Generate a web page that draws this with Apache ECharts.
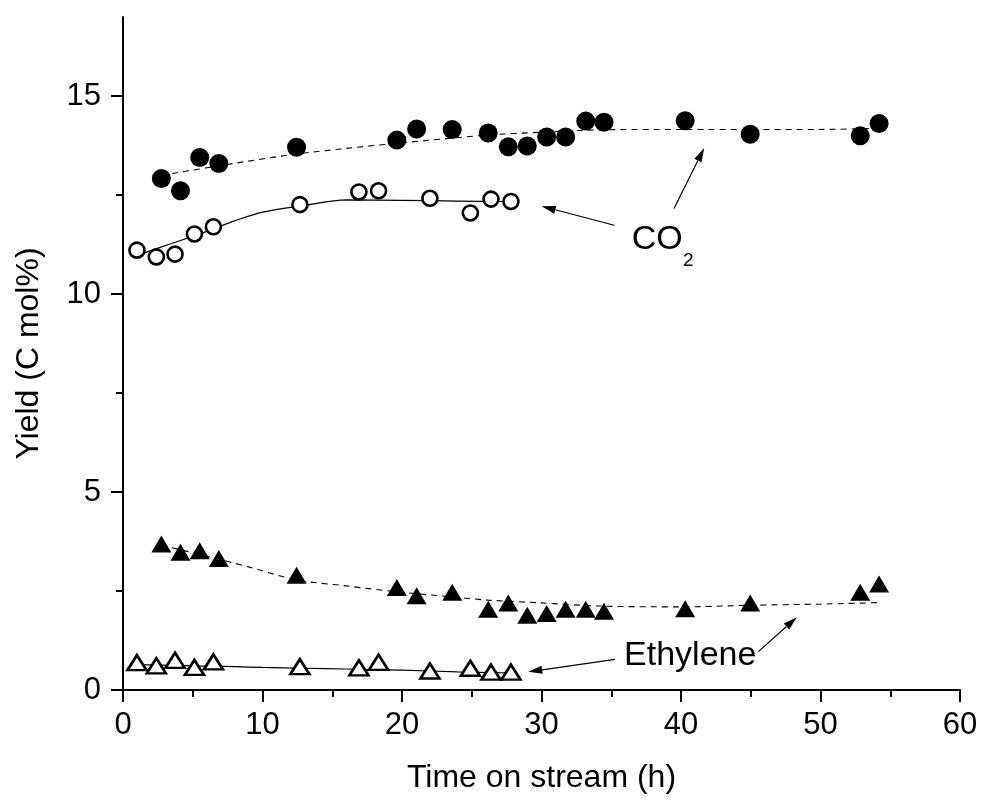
<!DOCTYPE html>
<html>
<head>
<meta charset="utf-8">
<title>Yield vs time on stream</title>
<script src="https://cdn.jsdelivr.net/npm/echarts@6/dist/echarts.min.js"></script>
<style>
  html, body { margin: 0; padding: 0; background: #fff; }
  #chart { width: 984px; height: 804px; }
</style>
</head>
<body>
<div id="chart"></div>
<script>
// Run A (filled symbols): time on stream (h)
const timeA = [2.75, 4.12, 5.50, 6.87, 12.44, 19.63, 21.05, 23.60, 26.18, 27.62, 28.98, 30.37, 31.73, 33.17, 34.48, 40.30, 44.96, 52.85, 54.20];
const co2A = [12.92, 12.61, 13.45, 13.30, 13.71, 13.89, 14.17, 14.16, 14.07, 13.72, 13.74, 13.97, 13.97, 14.37, 14.34, 14.38, 14.04, 14.00, 14.31];
const ethyleneA = [3.69, 3.48, 3.52, 3.32, 2.90, 2.59, 2.38, 2.47, 2.04, 2.20, 1.89, 1.93, 2.04, 2.04, 1.99, 2.05, 2.20, 2.47, 2.68];

// Run B (open symbols)
const timeB = [1.00, 2.39, 3.73, 5.12, 6.48, 12.68, 16.91, 18.32, 22.00, 24.90, 26.38, 27.81];
const co2B = [11.11, 10.94, 11.01, 11.52, 11.70, 12.26, 12.58, 12.61, 12.42, 12.05, 12.40, 12.34];
const ethyleneB = [0.69, 0.61, 0.75, 0.57, 0.71, 0.59, 0.56, 0.70, 0.48, 0.55, 0.45, 0.45];

// Guide-to-the-eye trend curves
const trendTimeA = [2.75, 6, 9, 12.44, 16, 19.63, 23, 26.18, 30, 34.2, 40, 45, 50, 54.3];
const co2TrendA = [13.00, 13.19, 13.36, 13.54, 13.68, 13.81, 13.92, 14.02, 14.09, 14.15, 14.16, 14.16, 14.16, 14.19];
const ethyleneTrendA = [3.66, 3.38, 3.11, 2.78, 2.63, 2.48, 2.37, 2.27, 2.20, 2.12, 2.10, 2.14, 2.17, 2.21];
const trendTimeB = [1.0, 2.4, 5.1, 6.5, 8, 10, 13, 16, 20, 24, 27.8];
const co2TrendB = [10.97, 11.15, 11.47, 11.65, 11.85, 12.07, 12.24, 12.38, 12.37, 12.35, 12.34];
const ethyleneTrendB = [0.64, 0.63, 0.61, 0.60, 0.59, 0.57, 0.55, 0.53, 0.50, 0.46, 0.43];

// Axis ticks
const xTicks = [0, 10, 20, 30, 40, 50, 60];
const yMajorTicks = [0, 5, 10, 15];
const yMinorTicks = [2.5, 7.5, 12.5];

const FONT = '"Liberation Sans", Arial, sans-serif';

const zip = (xs, ys) => xs.map((x, i) => [x, ys[i]]);

const chart = echarts.init(document.getElementById('chart'), null, { renderer: 'canvas' });

function scatter(name, xs, ys, symbol, size, filled) {
  return {
    name, type: 'scatter', xAxisIndex: 0, yAxisIndex: 0,
    data: zip(xs, ys), symbol, symbolSize: size, z: 5,
    itemStyle: filled
      ? { color: '#000', borderWidth: 0, opacity: 1 }
      : { color: '#fff', borderColor: '#000', borderWidth: 2.6, opacity: 1 },
    emphasis: { disabled: true }, silent: true
  };
}
function trend(name, xs, ys, dashed) {
  return {
    name, type: 'line', xAxisIndex: 0, yAxisIndex: 0,
    data: zip(xs, ys), showSymbol: false, smooth: 0.3, z: 3,
    lineStyle: { color: '#000', width: dashed ? 1.1 : 1.2, type: dashed ? [6, 5] : 'solid' },
    emphasis: { disabled: true }, silent: true
  };
}

const axisLine = { show: true, onZero: false, lineStyle: { color: '#000', width: 2 } };

chart.setOption({
  animation: false,
  backgroundColor: '#fff',
  grid: { left: 123, right: 24, top: 17, bottom: 114, containLabel: false },
  xAxis: {
    type: 'value', min: 0, max: 60, interval: 10,
    axisLine,
    axisTick: { show: true, inside: false, length: 12, lineStyle: { color: '#000', width: 2 } },
    minorTick: { show: true, splitNumber: 2, length: 7, lineStyle: { color: '#000', width: 2 } },
    splitLine: { show: false },
    axisLabel: { color: '#000', fontFamily: FONT, fontSize: 31, margin: 20, customValues: xTicks },
    name: 'Time on stream (h)', nameLocation: 'middle', nameGap: 72,
    nameTextStyle: { color: '#000', fontFamily: FONT, fontSize: 32 }
  },
  yAxis: [{
    type: 'value', min: 0, max: 17,
    axisLine,
    axisTick: { show: true, inside: false, length: 12, customValues: yMajorTicks, lineStyle: { color: '#000', width: 2 } },
    splitLine: { show: false },
    axisLabel: { color: '#000', fontFamily: FONT, fontSize: 31, margin: 22, customValues: yMajorTicks },
    name: 'Yield (C mol%)', nameLocation: 'middle', nameGap: 78, nameRotate: 90,
    nameTextStyle: { color: '#000', fontFamily: FONT, fontSize: 32 }
  }, {
    type: 'value', min: 0, max: 17, position: 'left',
    axisLine: { show: false },
    axisTick: { show: true, inside: false, length: 7, customValues: yMinorTicks, lineStyle: { color: '#000', width: 2 } },
    axisLabel: { show: false }, splitLine: { show: false }
  }],
  series: [
    trend('CO2 trend A', trendTimeA, co2TrendA, true),
    trend('Ethylene trend A', trendTimeA, ethyleneTrendA, true),
    trend('CO2 trend B', trendTimeB, co2TrendB, false),
    trend('Ethylene trend B', trendTimeB, ethyleneTrendB, false),
    scatter('CO2 A', timeA, co2A, 'circle', 19, true),
    scatter('Ethylene A', timeA, ethyleneA, 'triangle', [20, 17], true),
    scatter('CO2 B', timeB, co2B, 'circle', 15, false),
    scatter('Ethylene B', timeB, ethyleneB, 'triangle', [19, 15], false)
  ]
});

// Annotations, anchored in data units
const labels = [
  { text: 'CO', at: [36.47, 11.38], size: 34 },
  { text: '2', at: [40.15, 10.83], size: 19 },
  { text: 'Ethylene', at: [35.92, 0.88], size: 34 }
];
const arrows = [
  { from: [35.22, 11.74], to: [30.01, 12.22] },
  { from: [39.50, 12.16], to: [41.66, 13.69] },
  { from: [35.27, 0.775], to: [29.05, 0.46] },
  { from: [45.55, 0.97], to: [48.31, 1.84] }
];

const px = (p) => chart.convertToPixel({ xAxisIndex: 0, yAxisIndex: 0 }, p);
const graphics = [];
labels.forEach((l) => {
  const [x, y] = px(l.at);
  graphics.push({
    type: 'text', x, y, z: 10, silent: true,
    style: { text: l.text, fill: '#000', font: `${l.size}px ${FONT}`, align: 'left', verticalAlign: 'middle' }
  });
});
arrows.forEach((a) => {
  const [x1, y1] = px(a.from);
  const [x2, y2] = px(a.to);
  const dx = x2 - x1, dy = y2 - y1;
  const len = Math.hypot(dx, dy);
  const ux = dx / len, uy = dy / len;
  const headLen = 14, headHalf = 4;
  const bx = x2 - ux * headLen, by = y2 - uy * headLen;
  graphics.push({
    type: 'line', z: 10, silent: true,
    shape: { x1, y1, x2: bx, y2: by },
    style: { stroke: '#000', lineWidth: 1.2 }
  });
  graphics.push({
    type: 'polygon', z: 10, silent: true,
    shape: { points: [[x2, y2], [bx - uy * headHalf, by + ux * headHalf], [bx + uy * headHalf, by - ux * headHalf]] },
    style: { fill: '#000' }
  });
});
chart.setOption({ graphic: graphics });
</script>
</body>
</html>
